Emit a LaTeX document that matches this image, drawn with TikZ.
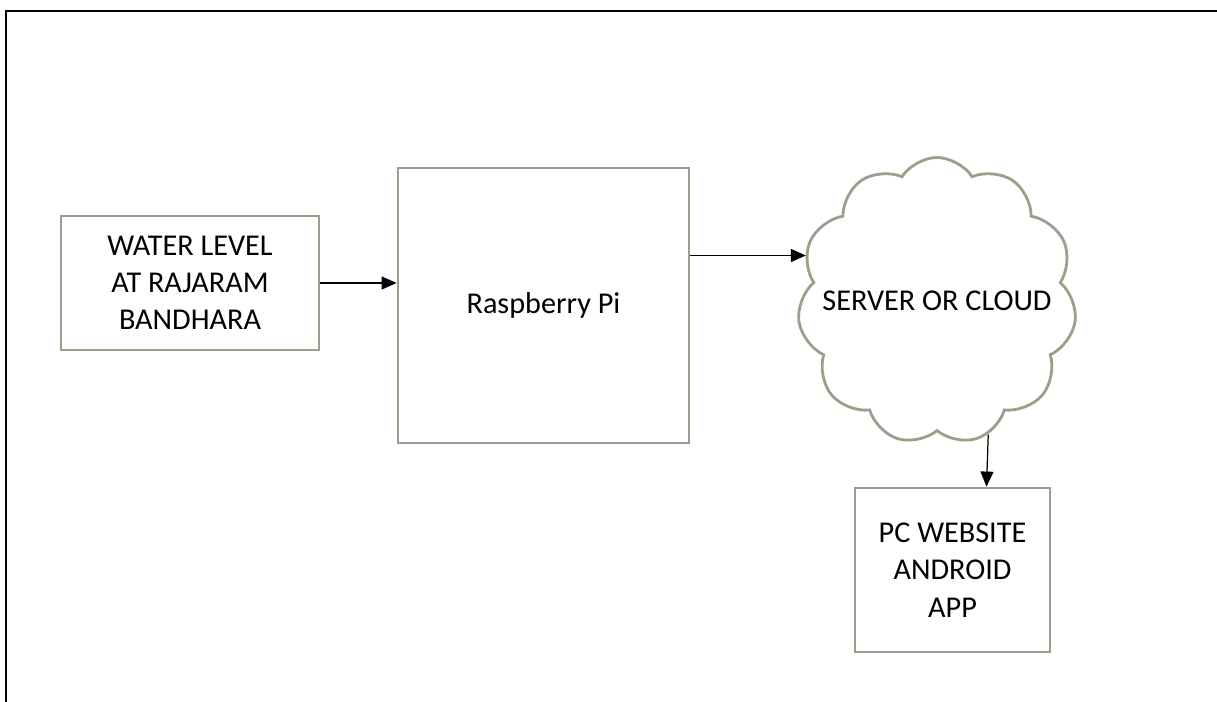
\documentclass[tikz,border=0pt]{standalone}
\usepackage{fontspec}
\setmainfont{Carlito}
\usetikzlibrary{shapes.symbols,arrows.meta}
\definecolor{boxgreen}{RGB}{150,162,140}
\begin{document}
\begin{tikzpicture}[
    x=0.1mm, y=-0.1mm,
    every node/.style={align=center, font=\fontsize{8.6}{10.6}\selectfont, line width=0.8pt},
    block/.style={rectangle, draw=boxgreen},
    store/.style={cloud, draw=boxgreen, cloud puffs=11, cloud puff arc=115, cloud ignores aspect, inner sep=0pt},
    flow/.style={-{Triangle[length=1.5mm, width=1.3mm]}, line width=0.35pt},
]
  \useasboundingbox (0,0) rectangle (1217,702);
  % page frame, open at the bottom and right
  \draw [line width=0.7pt] (6,702) -- (6,11) -- (1217,11);

  \node [block, minimum width=25.8mm, minimum height=13.4mm]  (level) at (190,283)   {WATER LEVEL\\AT RAJARAM\\BANDHARA};
  \node [block, minimum width=29.1mm, minimum height=27.5mm]  (pi)    at (543.5,305.5) {Raspberry Pi};
  \node [store, minimum width=27.9mm, minimum height=28.7mm,
         label={center:SERVER OR CLOUD}]                      (srv)   at (937,301)   {};
  \node [block, minimum width=19.5mm, minimum height=16.4mm]  (app)   at (952.5,570) {PC WEBSITE\\ANDROID\\APP};

  \draw [flow] (level.east) -- (level.east -| pi.west);
  \draw [flow] ([yshift=5mm]pi.east) -- ([yshift=5mm]pi.east -| srv.159);
  \draw [flow] (srv.291) -- ([xshift=3.4mm]app.north);
\end{tikzpicture}
\end{document}
